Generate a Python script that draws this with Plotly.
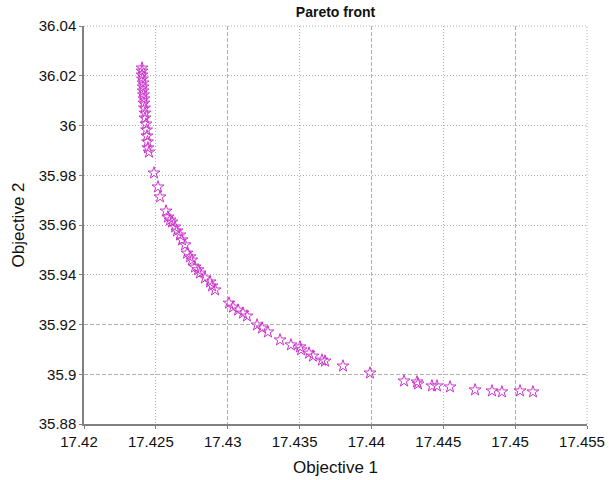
import plotly.graph_objects as go

obj1 = [17.42404, 17.42404, 17.42404, 17.42407, 17.42411, 17.42411, 17.42411, 17.42414,
        17.42417, 17.42417, 17.42421, 17.42424, 17.42424, 17.42431, 17.42435, 17.42438,
        17.42442, 17.42445, 17.42452,
        17.42487, 17.42515, 17.42529, 17.42571, 17.42584, 17.42598, 17.42612, 17.42633,
        17.42647, 17.42668, 17.42682, 17.42703, 17.42717, 17.42737, 17.42751, 17.42772,
        17.42793, 17.42807, 17.42842, 17.42877, 17.42891, 17.42912,
        17.43009, 17.43037, 17.43072, 17.43106, 17.43134, 17.43204, 17.43239, 17.43280,
        17.43364, 17.43440, 17.43503, 17.43510, 17.43566, 17.43593, 17.43656, 17.43677,
        17.43802, 17.43990, 17.44227, 17.44317, 17.44324, 17.44421, 17.44456, 17.44547,
        17.44721, 17.44839, 17.44908, 17.45034, 17.45124]
obj2 = [36.0231, 36.0219, 36.0203, 36.0187, 36.0171, 36.0155, 36.0139, 36.0123,
        36.0107, 36.0090, 36.0070, 36.0050, 36.0030, 36.0006, 35.9982, 35.9958,
        35.9934, 35.9910, 35.9893,
        35.9809, 35.9753, 35.9713, 35.9656, 35.9632, 35.9620, 35.9612, 35.9592,
        35.9576, 35.9560, 35.9540, 35.9520, 35.9487, 35.9472, 35.9459, 35.9431,
        35.9420, 35.9407, 35.9387, 35.9371, 35.9355, 35.9339,
        35.9286, 35.9270, 35.9258, 35.9246, 35.9234, 35.9198, 35.9186, 35.9170,
        35.9138, 35.9118, 35.9110, 35.9098, 35.9085, 35.9073, 35.9057, 35.9053,
        35.9033, 35.9005, 35.8973, 35.8969, 35.8961, 35.8953, 35.8953, 35.8949,
        35.8937, 35.8933, 35.8929, 35.8933, 35.8929]

x_ticks = [17.42, 17.425, 17.43, 17.435, 17.44, 17.445, 17.45, 17.455]
x_labels = ["17.42", "17.425", "17.43", "17.435", "17.44", "17.445", "17.45", "17.455"]
y_ticks = [35.88, 35.90, 35.92, 35.94, 35.96, 35.98, 36.00, 36.02, 36.04]
y_labels = ["35.88", "35.9", "35.92", "35.94", "35.96", "35.98", "36", "36.02", "36.04"]

x_dot = [17.425, 17.435, 17.445]
x_dash = [17.43, 17.44, 17.45]
y_dot = [35.94, 35.96, 35.98, 36.00, 36.02]
y_dash = [35.90, 35.92]

eps = 1e-7
x_range = [17.42 - eps, 17.455 + eps]
y_range = [35.88 - eps, 36.04 + eps]

grid_col = "#b0b0b0"
font_fam = "Liberation Sans, Arial, sans-serif"
DOT = "1px,2px"
DASH = "4px,2px"

W, H = 609, 480
ML, MR, MT, MB = 84, 22, 26, 56

fig = go.Figure()
fig.add_trace(go.Scatter(x=[], y=[], xaxis="x2", yaxis="y2", showlegend=False, hoverinfo="skip"))
fig.add_trace(go.Scatter(x=[], y=[], xaxis="x3", yaxis="y3", showlegend=False, hoverinfo="skip"))
fig.add_trace(go.Scatter(
    x=obj1, y=obj2, mode="markers", showlegend=False,
    marker=dict(symbol="star-open", size=9, color="#cc33cc", line=dict(width=1, color="#cc33cc")),
))

grid_common = dict(showticklabels=False, ticks="", showline=False, zeroline=False,
                   gridcolor=grid_col, gridwidth=1, tickmode="array")

# dotted frame on top and right edges (as in reference)
fig.add_shape(type="line", xref="paper", yref="paper", x0=0, x1=1, y0=1, y1=1,
              line=dict(color=grid_col, width=1, dash=DOT), layer="below")
fig.add_shape(type="line", xref="paper", yref="paper", x0=1, x1=1, y0=0, y1=1,
              line=dict(color=grid_col, width=1, dash=DOT), layer="below")

fig.update_layout(
    width=W, height=H,
    margin=dict(l=ML, r=MR, t=MT, b=MB, autoexpand=False),
    paper_bgcolor="white", plot_bgcolor="white",
    font=dict(family=font_fam, color="#111111"),
    title=dict(text="<b>Pareto front</b>", x=(ML + (W - MR)) / 2 / W, xanchor="center",
               y=1 - 12 / H, yanchor="middle", font=dict(size=14, family=font_fam, color="#111")),
    xaxis=dict(range=x_range, tickmode="array", tickvals=x_ticks, ticktext=x_labels,
               showgrid=False, zeroline=False, showline=True, linecolor="#808080", linewidth=1.5,
               ticks="outside", ticklen=3, tickcolor="#808080", automargin=False,
               ticklabeloverflow="allow", ticklabelshift=-5,
               tickfont=dict(size=15, family=font_fam, color="#111"),
               title=dict(text="Objective 1", font=dict(size=17, family=font_fam, color="#111"), standoff=12)),
    yaxis=dict(range=y_range, tickmode="array", tickvals=y_ticks, ticktext=y_labels,
               showgrid=False, zeroline=False, showline=True, linecolor="#808080", linewidth=1.5,
               ticks="outside", ticklen=3, tickcolor="#808080", automargin=False,
               ticklabeloverflow="allow",
               tickfont=dict(size=15, family=font_fam, color="#111"),
               title=dict(text="Objective 2", font=dict(size=17, family=font_fam, color="#111"), standoff=10)),
    xaxis2=dict(overlaying="x", range=x_range, tickvals=x_dot, griddash=DOT, **grid_common),
    yaxis2=dict(overlaying="y", range=y_range, tickvals=y_dot, griddash=DOT, **grid_common),
    xaxis3=dict(overlaying="x", range=x_range, tickvals=x_dash, griddash=DASH, **grid_common),
    yaxis3=dict(overlaying="y", range=y_range, tickvals=y_dash, griddash=DASH, **grid_common),
)

fig.write_html("out.html", config={"displayModeBar": False},
               post_script="document.body.style.margin='0';document.body.style.overflow='hidden';")
